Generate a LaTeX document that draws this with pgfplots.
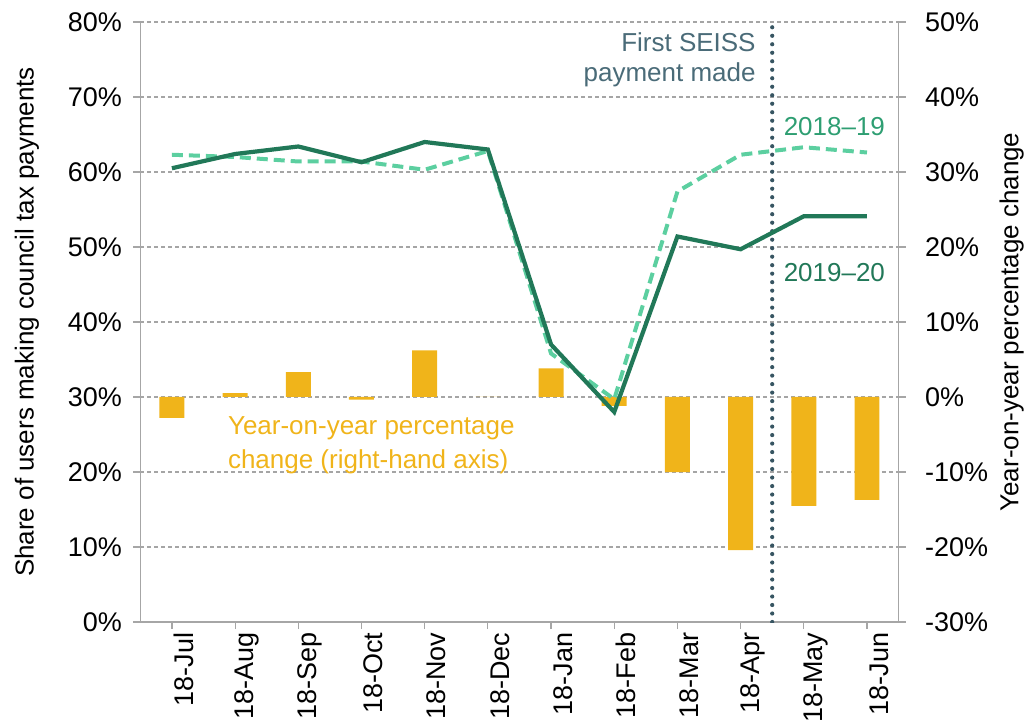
\documentclass[border=0pt]{standalone}
\usepackage{fontspec}
\setmainfont{Liberation Sans}
\usepackage{pgfplots}
\usepackage{pgfplotstable}
\pgfplotsset{compat=1.18}
\definecolor{dkgreen}{RGB}{33,120,88}
\definecolor{ltgreen}{RGB}{92,207,160}
\definecolor{midgreen}{RGB}{46,158,114}
\definecolor{gold}{RGB}{240,180,26}
\definecolor{slate}{RGB}{55,85,98}
\definecolor{slatetext}{RGB}{74,107,120}
\definecolor{axgray}{RGB}{166,166,166}
\definecolor{gridgray}{RGB}{165,165,165}

\pgfplotstableread{
x y1920 y1819 yoy
0 60.5 62.3 -2.8
1 62.4 62.0 0.5
2 63.4 61.4 3.3
3 61.3 61.4 -0.35
4 64.0 60.3 6.2
5 63.0 62.8 0
6 37.0 35.8 3.8
7 28.0 29.7 -1.2
8 51.4 57.4 -10.0
9 49.7 62.3 -20.4
10 54.1 63.3 -14.5
11 54.1 62.6 -13.7
}\datatable

\newcommand{\bigf}{\fontsize{26}{30}\selectfont}
\newcommand{\tickf}{\fontsize{27}{30}\selectfont}

\pgfplotsset{
  common/.style={
    at={(0,0)}, anchor=south west,
    scale only axis, width=758.6pt, height=600.3pt,
    xmin=-0.5, xmax=11.5,
    axis line style={axgray, line width=1.5pt, -},
    tick style={axgray, line width=1.2pt},
    major tick length=7pt,
    tick align=outside,
    tick label style={font=\tickf, text=black},
    label style={font=\bigf, text=black},
  }
}

\begin{document}
\begin{tikzpicture}
\begin{axis}[common,
  ymin=-30, ymax=50,
  axis y line*=right, axis x line=none,
  ytick={-30,-20,...,50},
  yticklabels={-30\%,-20\%,-10\%,0\%,10\%,20\%,30\%,40\%,50\%},
  yticklabel style={anchor=west, xshift=16pt},
  ymajorgrids,
  grid style={gridgray, dash pattern=on 4pt off 3pt, line width=1.1pt},
  every axis y label/.style={at={(axis description cs:1.149,0.5)}, rotate=90, anchor=center, font=\bigf, text=black},
  ylabel={Year-on-year percentage change},
]
\addplot[ybar, bar width=25pt, bar shift=0pt, fill=gold, draw=none] table[x=x,y=yoy]{\datatable};
\end{axis}
\begin{axis}[common,
  ymin=0, ymax=80,
  axis y line*=left, axis x line*=bottom,
  xtick={0,...,11},
  xticklabels={18-Jul,18-Aug,18-Sep,18-Oct,18-Nov,18-Dec,18-Jan,18-Feb,18-Mar,18-Apr,18-May,18-Jun},
  xticklabel style={rotate=90, anchor=east, xshift=0pt, yshift=-12pt},
  ytick={0,10,...,80},
  yticklabels={0\%,10\%,20\%,30\%,40\%,50\%,60\%,70\%,80\%},
  yticklabel style={anchor=east, xshift=-8pt},
  every axis y label/.style={at={(axis description cs:-0.1495,0.5)}, rotate=90, anchor=center, font=\bigf, text=black},
  ylabel={Share of users making council tax payments},
]
\addplot[slate, line width=4.2pt, dash pattern=on 0pt off 8.5pt, line cap=round] coordinates {(9.5,0) (9.5,80)};
\addplot[ltgreen, line width=4pt, dash pattern=on 11pt off 6pt] table[x=x,y=y1819]{\datatable};
\addplot[dkgreen, line width=4.2pt] table[x=x,y=y1920]{\datatable};
\node[anchor=east, align=right, text=slatetext, font=\bigf, inner sep=0pt] at (axis cs:9.24,75) {First SEISS\\payment made};
\node[anchor=west, text=midgreen, font=\bigf, inner sep=0pt] at (axis cs:9.68,66.0) {2018--19};
\node[anchor=west, text=dkgreen, font=\bigf, inner sep=0pt] at (axis cs:9.68,46.6) {2019--20};
\node[anchor=west, align=left, text=gold, font=\fontsize{26}{34}\selectfont, inner sep=0pt] at (axis cs:0.885,23.6) {Year-on-year percentage\\change (right-hand axis)};
\end{axis}
\path[use as bounding box] (-140.4pt,-104.7pt) rectangle (886.6pt,622.3pt);
\end{tikzpicture}
\end{document}
